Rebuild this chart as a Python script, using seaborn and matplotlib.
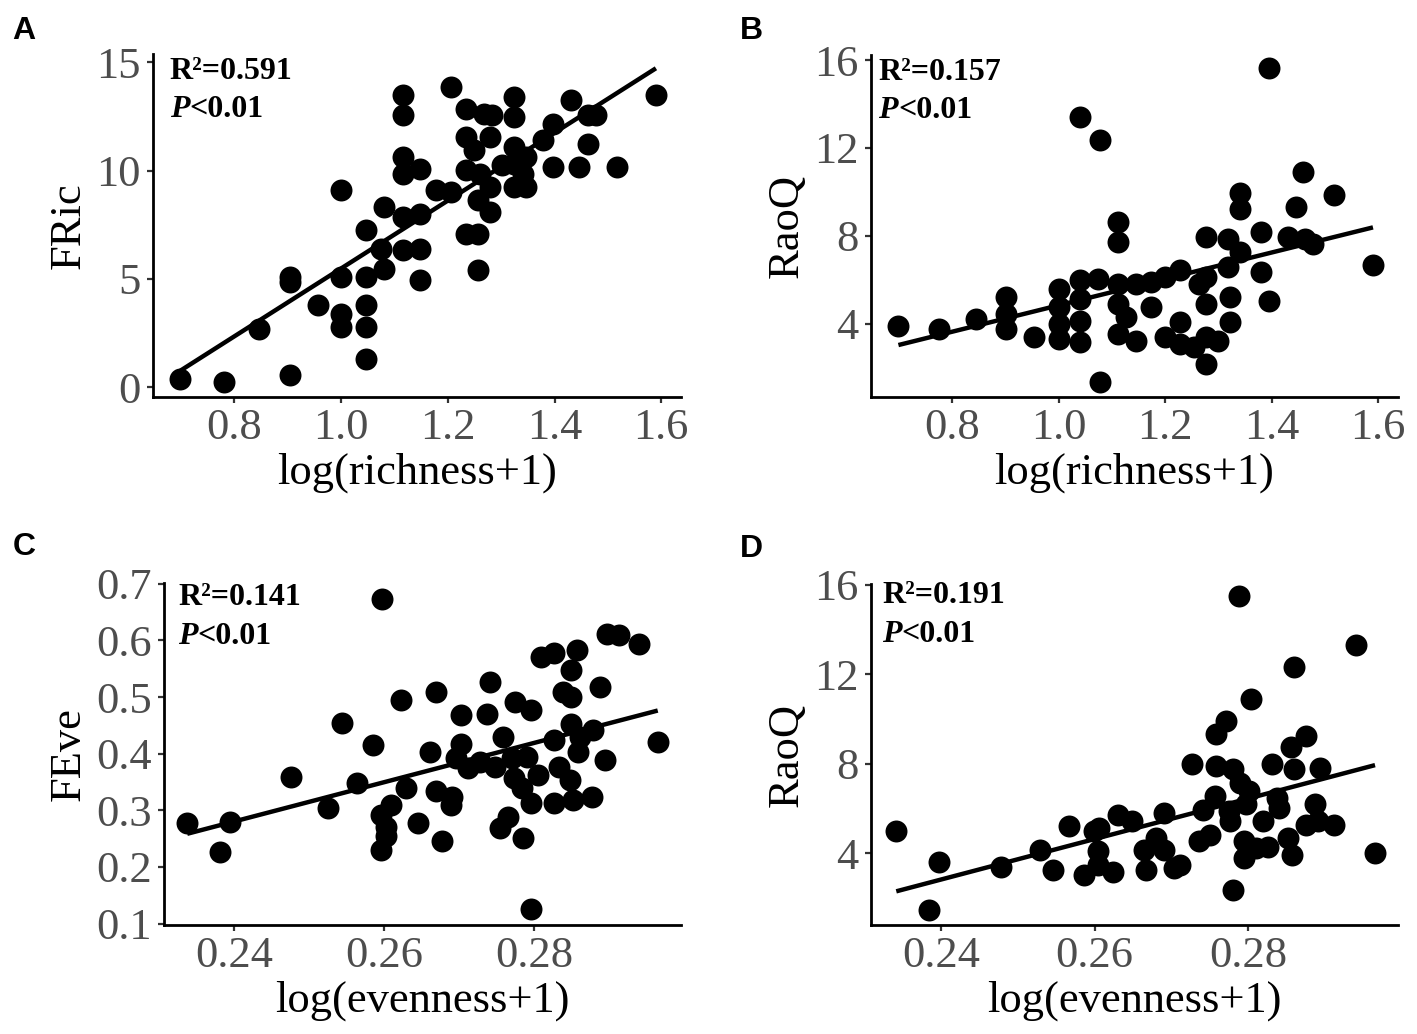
import numpy as np
import pandas as pd
import seaborn as sns
import matplotlib.pyplot as plt

# ---------------- data ----------------
# Panel A: FRic vs log(richness+1)
a_x = [0.699, 0.780, 0.904, 0.847, 0.904, 0.904, 0.956, 1.000, 1.000, 1.000, 1.000,
       1.047, 1.047, 1.047, 1.047, 1.047, 1.081, 1.081, 1.074, 1.116, 1.116, 1.116,
       1.116, 1.116, 1.116, 1.148, 1.148, 1.148, 1.148, 1.177, 1.206, 1.206, 1.235,
       1.235, 1.235, 1.235, 1.257, 1.257, 1.257, 1.260, 1.267, 1.283, 1.279, 1.279,
       1.279, 1.250, 1.324, 1.324, 1.324, 1.324, 1.324, 1.302, 1.347, 1.347, 1.379,
       1.398, 1.398, 1.430, 1.446, 1.462, 1.462, 1.478, 1.517, 1.590, 1.340]
a_y = [0.39, 0.23, 0.54, 2.70, 4.85, 5.10, 3.78, 9.09, 5.08, 3.39, 2.77,
       7.24, 5.08, 3.78, 2.77, 1.31, 8.32, 5.47, 6.39, 13.48, 12.56, 10.63,
       9.86, 7.86, 6.32, 10.09, 8.01, 6.39, 4.93, 9.09, 9.01, 13.87, 12.87,
       11.56, 10.02, 7.09, 7.09, 5.39, 8.63, 9.86, 12.64, 12.56, 11.56, 9.24,
       8.09, 10.94, 13.40, 12.48, 11.09, 10.32, 9.24, 10.25, 10.63, 9.24, 11.40,
       12.17, 10.17, 13.25, 10.17, 11.25, 12.56, 12.56, 10.17, 13.48, 9.86]

# Panel B: RaoQ vs log(richness+1)
b_x = [0.699, 0.776, 0.844, 0.901, 0.901, 0.901, 0.953, 1.001, 1.001, 1.001, 1.001,
       1.039, 1.039, 1.039, 1.039, 1.039, 1.078, 1.074, 1.078, 1.112, 1.112, 1.112,
       1.112, 1.112, 1.126, 1.145, 1.145, 1.174, 1.174, 1.199, 1.199, 1.228, 1.228,
       1.228, 1.254, 1.276, 1.276, 1.276, 1.276, 1.276, 1.299, 1.318, 1.318, 1.321,
       1.321, 1.340, 1.340, 1.340, 1.379, 1.379, 1.395, 1.395, 1.430, 1.446, 1.459,
       1.462, 1.478, 1.517, 1.590, 1.263]
b_y = [3.92, 3.77, 4.23, 5.22, 4.46, 3.77, 3.39, 5.60, 4.76, 4.00, 3.32,
       13.42, 5.98, 5.14, 4.15, 3.16, 12.36, 6.05, 1.34, 8.64, 7.72, 5.82,
       4.91, 3.54, 4.30, 5.82, 3.24, 5.90, 4.76, 6.13, 3.39, 6.43, 4.08,
       3.09, 2.94, 7.95, 6.13, 4.91, 3.39, 2.18, 3.24, 7.88, 6.58, 5.22,
       4.08, 9.93, 9.24, 7.27, 8.18, 6.36, 15.63, 5.06, 7.95, 9.32, 10.91,
       7.88, 7.65, 9.85, 6.66, 5.82]

# Panel C: FEve vs log(evenness+1)
c_x = [0.2338, 0.2395, 0.2381, 0.2476, 0.2525, 0.2544, 0.2564, 0.2585, 0.2598, 0.2596,
       0.2603, 0.2610, 0.2596, 0.2603, 0.2623, 0.2630, 0.2646, 0.2662, 0.2669, 0.2669,
       0.2678, 0.2689, 0.2691, 0.2696, 0.2703, 0.2703, 0.2712, 0.2728, 0.2737, 0.2741,
       0.2748, 0.2755, 0.2759, 0.2766, 0.2771, 0.2773, 0.2775, 0.2784, 0.2786, 0.2791,
       0.2796, 0.2796, 0.2796, 0.2805, 0.2809, 0.2827, 0.2827, 0.2827, 0.2834, 0.2839,
       0.2848, 0.2850, 0.2850, 0.2850, 0.2852, 0.2857, 0.2859, 0.2861, 0.2877, 0.2879,
       0.2888, 0.2895, 0.2897, 0.2913, 0.2940, 0.2965]
c_y = [0.277, 0.280, 0.227, 0.359, 0.304, 0.454, 0.348, 0.415, 0.674, 0.292,
       0.271, 0.310, 0.230, 0.254, 0.494, 0.339, 0.277, 0.403, 0.509, 0.335,
       0.245, 0.310, 0.324, 0.392, 0.468, 0.418, 0.374, 0.386, 0.471, 0.527,
       0.377, 0.268, 0.430, 0.289, 0.393, 0.357, 0.492, 0.339, 0.251, 0.395,
       0.125, 0.313, 0.477, 0.363, 0.571, 0.577, 0.424, 0.313, 0.377, 0.509,
       0.353, 0.547, 0.500, 0.453, 0.319, 0.583, 0.403, 0.430, 0.324, 0.442,
       0.518, 0.389, 0.612, 0.609, 0.594, 0.421]

# Panel D: RaoQ vs log(evenness+1)
d_x = [0.2341, 0.2397, 0.2384, 0.2478, 0.2528, 0.2545, 0.2566, 0.2586, 0.2599, 0.2604,
       0.2606, 0.2604, 0.2624, 0.2631, 0.2649, 0.2665, 0.2667, 0.2680, 0.2691, 0.2691,
       0.2703, 0.2712, 0.2727, 0.2736, 0.2741, 0.2750, 0.2757, 0.2759, 0.2759, 0.2772,
       0.2775, 0.2781, 0.2781, 0.2788, 0.2790, 0.2795, 0.2795, 0.2797, 0.2804, 0.2802,
       0.2811, 0.2820, 0.2826, 0.2831, 0.2838, 0.2840, 0.2853, 0.2856, 0.2858, 0.2860,
       0.2860, 0.2876, 0.2876, 0.2887, 0.2894, 0.2891, 0.2912, 0.2941, 0.2966, 0.2777]
d_y = [4.98, 3.62, 1.45, 3.40, 4.15, 3.25, 5.20, 3.02, 4.98, 4.08,
       5.13, 3.47, 3.17, 5.73, 5.43, 4.15, 3.25, 4.68, 5.80, 4.15,
       3.32, 3.47, 7.98, 4.53, 5.95, 4.83, 6.55, 9.33, 7.90, 9.93,
       5.88, 2.35, 7.75, 15.49, 7.15, 4.53, 3.77, 6.18, 10.91, 6.78,
       4.23, 5.43, 4.30, 7.98, 6.48, 6.03, 4.68, 8.73, 3.92, 12.33,
       7.75, 9.26, 5.28, 6.18, 7.83, 5.43, 5.28, 13.31, 4.00, 5.43]

panel_letters = ["A", "B", "C", "D"]
x_titles = ["log(richness+1)", "log(richness+1)", "log(evenness+1)", "log(evenness+1)"]
y_titles = ["FRic", "RaoQ", "FEve", "RaoQ"]
r2_labels = ["0.591", "0.157", "0.141", "0.191"]
p_label = "<0.01"
rich_ticks = [0.8, 1.0, 1.2, 1.4, 1.6]
rich_ticklabels = ["0.8", "1.0", "1.2", "1.4", "1.6"]
even_ticks = [0.24, 0.26, 0.28]
even_ticklabels = ["0.24", "0.26", "0.28"]
a_yticks = [0, 5, 10, 15]
raoq_yticks = [4, 8, 12, 16]
c_yticks = [0.1, 0.2, 0.3, 0.4, 0.5, 0.6, 0.7]
c_yticklabels = ["0.1", "0.2", "0.3", "0.4", "0.5", "0.6", "0.7"]

# ---------------- figure ----------------
sns.set_theme(style="ticks")
plt.rcParams['font.family'] = ['Liberation Serif', 'DejaVu Serif']

W, H = 1417, 1034
fig = plt.figure(figsize=(W / 100, H / 100), dpi=100)


def add_ax(l, r, t, b):
    return fig.add_axes([l / W, 1 - b / H, (r - l) / W, (b - t) / H])


axes = [add_ax(153, 681, 54, 397), add_ax(871, 1398, 55, 397),
        add_ax(164, 681, 583, 925), add_ax(871, 1398, 584, 925)]

datasets = [(a_x, a_y), (b_x, b_y), (c_x, c_y), (d_x, d_y)]
xlims = [(0.6475, 1.637), (0.6475, 1.637), (0.2307, 0.2996), (0.2308, 0.2996)]
ylims = [(-0.46, 15.39), (0.67, 16.23), (0.0975, 0.7015), (0.79, 16.04)]
xtick_sets = [(rich_ticks, rich_ticklabels), (rich_ticks, rich_ticklabels),
              (even_ticks, even_ticklabels), (even_ticks, even_ticklabels)]
ytick_sets = [(a_yticks, [str(v) for v in a_yticks]),
              (raoq_yticks, [str(v) for v in raoq_yticks]),
              (c_yticks, c_yticklabels),
              (raoq_yticks, [str(v) for v in raoq_yticks])]
ann_pos = [(0.032, 0.928, 0.815), (0.014, 0.928, 0.815),
           (0.027, 0.937, 0.823), (0.021, 0.945, 0.831)]
letter_pos = [(12, 39), (740, 39), (13, 555), (740, 557)]

tick_color = "#4D4D4D"
for i, ax in enumerate(axes):
    x, y = datasets[i]
    df = pd.DataFrame({"x": x, "y": y})
    sns.regplot(data=df, x="x", y="y", ax=ax, ci=None, color="black",
                scatter_kws=dict(s=250, linewidths=0, alpha=1, zorder=3),
                line_kws=dict(lw=3.2, solid_capstyle="butt", zorder=4))
    ax.set_xlim(*xlims[i])
    ax.set_ylim(*ylims[i])
    ax.set_xticks(xtick_sets[i][0])
    ax.set_xticklabels(xtick_sets[i][1])
    ax.set_yticks(ytick_sets[i][0])
    ax.set_yticklabels(ytick_sets[i][1])
    sns.despine(ax=ax)
    for s in ["left", "bottom"]:
        ax.spines[s].set_linewidth(2.0)
        ax.spines[s].set_color("black")
    ax.tick_params(axis="both", length=4, width=1.6, color="#333333",
                   labelcolor=tick_color, labelsize=32)
    ax.tick_params(axis="x", pad=4)
    ax.tick_params(axis="y", pad=5)
    ax.set_xlabel(x_titles[i], fontsize=32, color="black", labelpad=3)
    ax.set_ylabel(y_titles[i], fontsize=32, color="black", labelpad=5)

    ax_x, r2_y, p_y = ann_pos[i]
    ax.text(ax_x, r2_y, "R\u00b2=" + r2_labels[i], transform=ax.transAxes,
            fontsize=23, fontweight="bold", color="black", va="baseline", ha="left")
    ptxt = ax.text(ax_x, p_y, "P", transform=ax.transAxes, fontsize=23,
                   fontweight="bold", fontstyle="italic", color="black",
                   va="baseline", ha="left")
    ax.annotate(p_label, xy=(1, 0), xycoords=ptxt, fontsize=23, fontweight="bold",
                color="black", va="bottom", ha="left")

    lx, ly = letter_pos[i]
    fig.text(lx / W, 1 - ly / H, panel_letters[i], fontsize=23, fontweight="bold",
             family=["Liberation Sans", "DejaVu Sans"], color="black",
             va="baseline", ha="left")

fig.savefig("out.png", dpi=100)
